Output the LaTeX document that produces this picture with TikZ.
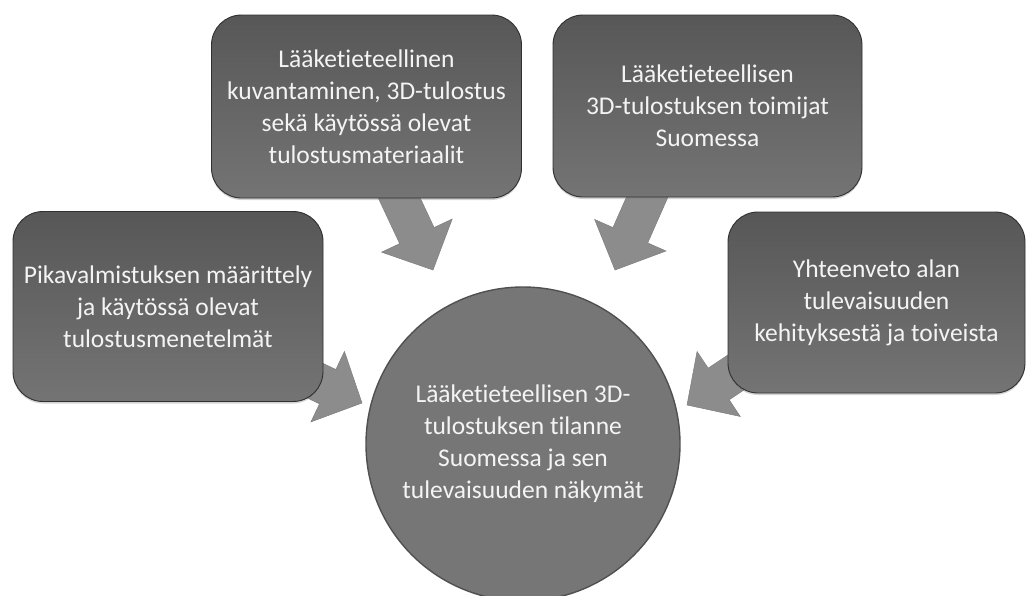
\documentclass[tikz,border=0pt]{standalone}
\usepackage{fontspec}
\setmainfont{Carlito}[Ligatures={NoCommon}]
\usetikzlibrary{calc,shadows}
\definecolor{boxtop}{HTML}{575757}
\definecolor{boxbot}{HTML}{747474}
\definecolor{boxline}{HTML}{303030}
\definecolor{circfill}{HTML}{767676}
\definecolor{circline}{HTML}{505050}
\definecolor{arrfill}{HTML}{8C8C8C}
\definecolor{arrline}{HTML}{7E7E7E}
\definecolor{txt}{HTML}{F4F4F4}
\pgfdeclarelayer{background}
\pgfsetlayers{background,main}
\tikzset{
  boxnode/.style={rounded corners=30pt, top color=boxtop, bottom color=boxbot,
    draw=boxline, line width=0.9pt, inner sep=0pt, align=center, text=txt,
    font=\fontsize{25.5}{32}\selectfont,
    drop shadow={shadow xshift=0pt, shadow yshift=-2pt, opacity=0.35}},
  circnode/.style={circle, fill=circfill, draw=circline, line width=1.4pt,
    inner sep=0pt, minimum size=314pt, align=center, text=txt,
    font=\fontsize{25.5}{32}\selectfont},
  arrowstyle/.style={fill=arrfill, draw=arrline, line width=0.5pt, line join=miter}
}
\newcommand\blockarrow[2]{%
  \coordinate (hb) at ($(#2)!38pt!(#1)$);
  \filldraw[arrowstyle] ($(#1)!19pt!90:(#2)$) -- ($(hb)!19pt!-90:(#1)$)
    -- ($(hb)!39pt!-90:(#1)$) -- (#2) -- ($(hb)!39pt!90:(#1)$)
    -- ($(hb)!19pt!90:(#1)$) -- ($(#1)!19pt!-90:(#2)$) -- cycle;}
\begin{document}
\begin{tikzpicture}[x=1pt,y=-1pt]
\useasboundingbox (0,0) rectangle (1026,595);
\clip (0,0) rectangle (1026,595);

\node[circnode] (c) at (523,444) {Lääketieteellisen 3D-\\tulostuksen tilanne\\Suomessa ja sen\\tulevaisuuden näkymät};

\node[boxnode, minimum width=310pt, minimum height=183pt] (b1) at (366.5,106.5)
  {Lääketieteellinen\\kuvantaminen, 3D-tulostus\\sekä käytössä olevat\\tulostusmateriaalit};
\node[boxnode, minimum width=309pt, minimum height=182pt] (b2) at (707.5,106)
  {Lääketieteellisen\\3D-tulostuksen toimijat\\Suomessa};
\node[boxnode, minimum width=310pt, minimum height=190pt] (b3) at (168,306.5)
  {Pikavalmistuksen määrittely\\ja käytössä olevat\\tulostusmenetelmät};
\node[boxnode, minimum width=297pt, minimum height=181pt] (b4) at (876.5,302.5)
  {Yhteenveto alan\\tulevaisuuden\\kehityksestä ja toiveista};

\coordinate (s1) at ($(b1.south)+(25,-17)$);
\coordinate (e1) at ($(c.center)+(-90,-174)$);
\coordinate (s2) at ($(b2.south)+(-49,-26)$);
\coordinate (e2) at ($(c.center)+(92,-174)$);
\coordinate (s3) at ($(b3.south east)+(-33,-33)$);
\coordinate (e3) at ($(c.center)+(-161,-41)$);
\coordinate (s4) at ($(b4.south west)+(25,-32)$);
\coordinate (e4) at ($(c.center)+(164,-39)$);

\begin{pgfonlayer}{background}
\blockarrow{s1}{e1}
\blockarrow{s2}{e2}
\blockarrow{s3}{e3}
\blockarrow{s4}{e4}
\end{pgfonlayer}
\end{tikzpicture}
\end{document}
